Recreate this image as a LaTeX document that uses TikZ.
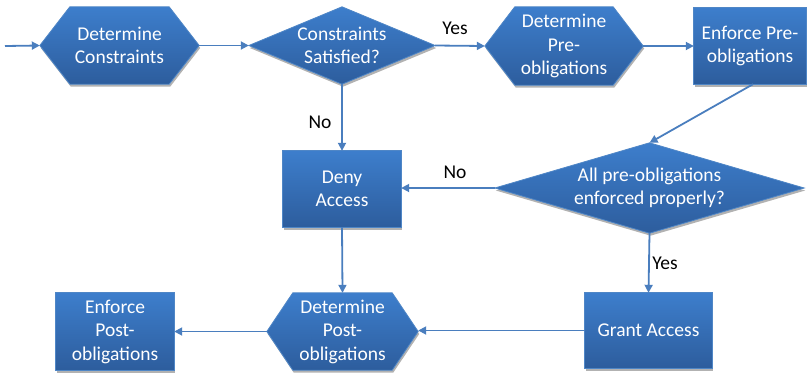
\documentclass[tikz,border=0pt]{standalone}
\usepackage{fontspec}
\setmainfont{Carlito}
\usetikzlibrary{arrows.meta,shadows,backgrounds}
\definecolor{fillTop}{HTML}{3D7ECC}
\definecolor{fillBot}{HTML}{2D5D9D}
\definecolor{edgeC}{HTML}{4F86C6}
\definecolor{arrC}{HTML}{4A7EBE}
\begin{document}
\begin{tikzpicture}[x=1pt,y=-1pt,
  blk/.style={rectangle, inner sep=0pt, text=white, align=center,
    font=\fontsize{19.5}{23.5}\selectfont},
  lbl/.style={inner sep=0pt, text=black, font=\fontsize{19.5}{23.5}\selectfont},
  shp/.style={top color=fillTop, bottom color=fillBot, draw=edgeC, line width=0.8pt,
    drop shadow={shadow xshift=1pt, shadow yshift=-2.5pt, opacity=0.3, fill=black}},
  conn/.style={draw=arrC, line width=1.8pt, -{Triangle[length=8pt,width=8pt]}}]
\useasboundingbox (0,0) rectangle (808,373);

% nodes
\node[blk, minimum width=159pt, minimum height=77pt] (h1) at (119.5,45.5) {Determine\\Constraints};
\node[blk, minimum width=186pt, minimum height=77pt] (d1) at (342,45.5) {Constraints\\Satisfied?};
\node[blk, minimum width=158pt, minimum height=78pt] (h2) at (564,46) {Determine\\Pre-\\obligations};
\node[blk, minimum width=112pt, minimum height=76pt] (r1) at (750,46) {Enforce Pre-\\obligations};
\node[blk, minimum width=309pt, minimum height=90pt] (d2) at (649.5,188) {All pre-obligations\\enforced properly?};
\node[blk, minimum width=118pt, minimum height=76pt] (deny) at (342,189) {Deny\\Access};
\node[blk, minimum width=127pt, minimum height=75pt] (grant) at (648.5,330.5) {Grant Access};
\node[blk, minimum width=151pt, minimum height=77pt] (h3) at (342.5,331.5) {Determine\\Post-\\obligations};
\node[blk, minimum width=118pt, minimum height=77pt] (post) at (115,331.5) {Enforce\\Post-\\obligations};
\coordinate (start) at (5,46);

% shapes
\begin{scope}[on background layer]
\path[shp] (h1.west) -- ([xshift=30pt]h1.north west) -- ([xshift=-30pt]h1.north east) -- (h1.east)
  -- ([xshift=-30pt]h1.south east) -- ([xshift=30pt]h1.south west) -- cycle;
\path[shp] (h2.west) -- ([xshift=30pt]h2.north west) -- ([xshift=-30pt]h2.north east) -- (h2.east)
  -- ([xshift=-30pt]h2.south east) -- ([xshift=30pt]h2.south west) -- cycle;
\path[shp] (h3.west) -- ([xshift=26pt]h3.north west) -- ([xshift=-26pt]h3.north east) -- (h3.east)
  -- ([xshift=-26pt]h3.south east) -- ([xshift=26pt]h3.south west) -- cycle;
\path[shp] (d1.west) -- (d1.north) -- (d1.east) -- (d1.south) -- cycle;
\path[shp] (d2.west) -- (d2.north) -- (d2.east) -- (d2.south) -- cycle;
\path[shp] (r1.north west) rectangle (r1.south east);
\path[shp] (deny.north west) rectangle (deny.south east);
\path[shp] (grant.north west) rectangle (grant.south east);
\path[shp] (post.north west) rectangle (post.south east);
\end{scope}

% connectors
\draw[conn] (start) -- (h1.west);
\draw[conn] (h1.east) -- (d1.west);
\draw[conn] (d1.east) -- (h2.west);
\draw[conn] (h2.east) -- (r1.west);
\draw[conn] ([xshift=3pt]r1.south) -- (d2.north);
\draw[conn] (d1.south) -- (deny.north);
\draw[conn] (d2.west) -- (deny.east |- d2.west);
\draw[conn] (d2.south) -- (grant.north);
\draw[conn] (deny.south) -- (h3.north);
\draw[conn] (grant.west) -- (h3.east |- grant.west);
\draw[conn] (h3.west) -- (post.east |- h3.west);

% labels
\node[lbl] (yes1) at (455,28) {Yes};
\node[lbl] (no1) at (320,122) {No};
\node[lbl] (no2) at (455,172) {No};
\node[lbl] (yes2) at (665,263) {Yes};
\end{tikzpicture}
\end{document}
